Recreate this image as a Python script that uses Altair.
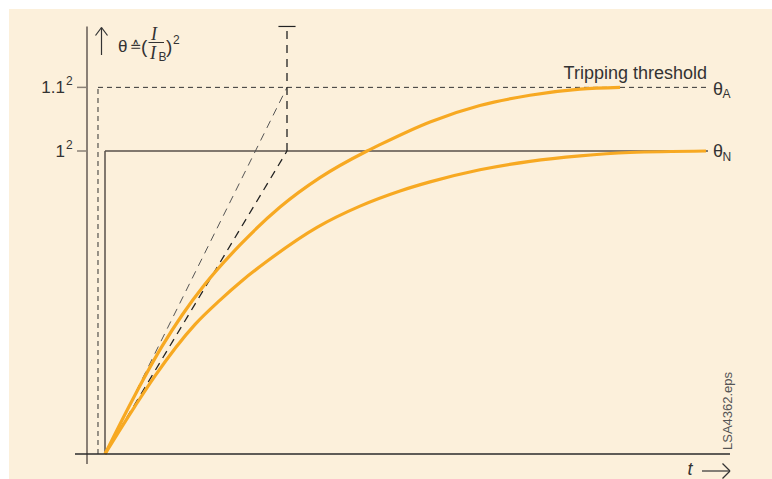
import altair as alt
import pandas as pd

# Heating curves of the thermal image, time t in units of the time constant,
# temperature rise theta = (I / I_B)^2
t_high = [0.0, 0.165, 0.313, 0.423, 0.549, 0.742, 0.962, 1.181, 1.440,
          1.511, 1.786, 2.060, 2.335, 2.610, 2.830]
theta_high = [0.0, 0.195, 0.355, 0.458, 0.560, 0.690, 0.815, 0.912, 1.000,
              1.021, 1.096, 1.150, 1.184, 1.204, 1.210]

t_rated = [0.0, 0.165, 0.275, 0.495, 0.632, 0.753, 0.890, 1.165, 1.401, 1.621,
           1.786, 2.060, 2.335, 2.610, 2.885, 3.302]
theta_rated = [0.0, 0.158, 0.258, 0.428, 0.508, 0.572, 0.636, 0.748, 0.818, 0.868,
               0.898, 0.938, 0.966, 0.984, 0.995, 1.000]

# Levels: rated 1^2 and tripping threshold 1.1^2
theta_levels = [1.0, 1.21]
level_base = ["1", "1.1"]
TAU = 1.0            # where the initial tangents meet the levels
T_END = 3.313        # right end of the level lines
T_TRIP_START = -0.0385
T_AXIS = -0.0989
T_TICK = -0.1538
T_AXIS_LEFT = -0.165
T_AXIS_RIGHT = 3.434
THETA_AXIS_LOW = -0.033
THETA_AXIS_TOP = 1.411
CAP_HALF = 0.047

X_DOMAIN = [-96 / 182, 667 / 182]
Y_DOMAIN = [-25 / 303, 445 / 303]

CREAM = "#FCF0DB"
ORANGE = "#F7A922"
INK = "#333333"
GREY = "#8A8076"
FONT = "Liberation Sans"

xs = alt.Scale(domain=X_DOMAIN, nice=False, zero=False)
ys = alt.Scale(domain=Y_DOMAIN, nice=False, zero=False)

curves = pd.DataFrame(
    {"t": t_high + t_rated,
     "theta": theta_high + theta_rated,
     "curve": ["A"] * len(t_high) + ["N"] * len(t_rated),
     "order": list(range(len(t_high))) + list(range(len(t_rated)))}
)


def seg(rows):
    return pd.DataFrame(rows, columns=["t", "t2", "th", "th2"])


def rules(df, **style):
    return alt.Chart(df).mark_rule(**style).encode(
        x=alt.X("t:Q", scale=xs, axis=None),
        x2="t2:Q",
        y=alt.Y("th:Q", scale=ys, axis=None),
        y2="th2:Q",
    )


theta_n, theta_a = theta_levels

trip_dashed = rules(
    seg([[T_TRIP_START, T_END, theta_a, theta_a],
         [T_TRIP_START, T_TRIP_START, 0.0, theta_a]]),
    color=INK, strokeWidth=1, strokeDash=[5, 4],
)
rated_solid = rules(
    seg([[0.0, T_END, theta_n, theta_n],
         [0.0, 0.0, 0.0, theta_n]]),
    color="#58514a", strokeWidth=1.5,
)
tangent_a = rules(seg([[0.0, TAU, 0.0, theta_a]]),
                  color="#555555", strokeWidth=1, strokeDash=[8, 6])
tangent_n = rules(
    seg([[0.0, TAU, 0.0, theta_n],
         [TAU, TAU, theta_n, THETA_AXIS_TOP]]),
    color="#222222", strokeWidth=1.3, strokeDash=[8, 6],
)
tangent_cap = rules(seg([[TAU - CAP_HALF, TAU + CAP_HALF, THETA_AXIS_TOP, THETA_AXIS_TOP]]),
                    color="#222222", strokeWidth=1.2)

x_line = rules(seg([[T_AXIS_LEFT, T_AXIS_RIGHT, 0.0, 0.0]]), color="#2b2b2b", strokeWidth=1.5)
y_line = rules(seg([[T_AXIS, T_AXIS, THETA_AXIS_LOW, THETA_AXIS_TOP]]), color=GREY, strokeWidth=2)

# Level ticks and their labels (base and exponent 2) on the theta axis
level_df = pd.DataFrame({"theta": theta_levels, "base": level_base, "exp": ["2", "2"],
                         "t": [T_TICK] * 2, "t2": [T_AXIS] * 2})
level_ticks = alt.Chart(level_df).mark_rule(color=GREY, strokeWidth=1.5).encode(
    x=alt.X("t:Q", scale=xs, axis=None), x2="t2:Q",
    y=alt.Y("theta:Q", scale=ys, axis=None),
)
level_base_text = alt.Chart(level_df).mark_text(
    align="right", baseline="alphabetic", dx=-12, dy=6, fontSize=17, font=FONT, color=INK
).encode(
    x=alt.X("t:Q", scale=xs, axis=None),
    y=alt.Y("theta:Q", scale=ys, axis=None),
    text="base:N",
)
level_exp_text = alt.Chart(level_df).mark_text(
    align="left", baseline="alphabetic", dx=-11, dy=-2, fontSize=12, font=FONT, color=INK
).encode(
    x=alt.X("t:Q", scale=xs, axis=None),
    y=alt.Y("theta:Q", scale=ys, axis=None),
    text="exp:N",
)

lines = alt.Chart(curves).mark_line(
    color=ORANGE, strokeWidth=3.2, interpolate="monotone", strokeCap="butt"
).encode(
    x=alt.X("t:Q", scale=xs, axis=None),
    y=alt.Y("theta:Q", scale=ys, axis=None),
    detail="curve:N",
    order="order:Q",
)

# Annotations, positioned in view pixels (view starts 9 px from the page corner)
OX, OY = 9, 9


def label(text, x, y, size, align="left", font=FONT, style="normal", color=INK, angle=0):
    props = dict(align=align, baseline="alphabetic", fontSize=size, font=font,
                 fontStyle=style, color=color)
    if angle:
        props["angle"] = angle
    return alt.Chart(pd.DataFrame({"s": [text]})).mark_text(**props).encode(
        text="s:N", x=alt.value(x - OX), y=alt.value(y - OY)
    )


def stroke(x1, y1, x2, y2, width=1.2, color=INK):
    return alt.Chart(pd.DataFrame({"s": [0]})).mark_rule(
        color=color, strokeWidth=width
    ).encode(
        x=alt.value(x1 - OX), y=alt.value(y1 - OY),
        x2=alt.value(x2 - OX), y2=alt.value(y2 - OY),
    )


annotations = [
    # theta axis arrow and quantity
    stroke(101.5, 55, 101.5, 27.5),
    stroke(101.5, 27.5, 95.5, 35.5),
    stroke(101.5, 27.5, 107.5, 35.5),
    label("θ", 118, 52, 17),
    label("≙", 130, 51, 14, font="DejaVu Sans"),
    label("(", 141, 53, 19),
    label("I", 154, 40, 18, align="center", font="Liberation Serif", style="italic"),
    stroke(148.5, 42.5, 164, 42.5, width=1),
    label("I", 153, 59, 18, align="center", font="Liberation Serif", style="italic"),
    label("B", 158.5, 61, 12),
    label(")", 166, 53, 19),
    label("2", 173, 44, 12),
    # time axis arrow
    label("t", 690, 475, 18, align="center", style="italic"),
    stroke(702, 471, 730, 471),
    stroke(730, 471, 722.5, 463.5),
    stroke(730, 471, 722.5, 478.5),
    # level names
    label("Tripping threshold", 707, 79, 18, align="right"),
    label("θ", 713, 95, 18),
    label("A", 722.5, 98, 12),
    label("θ", 713, 157, 18),
    label("N", 722.5, 161, 12),
    label("LSA4362.eps", 732, 450, 13, color="#555555", angle=270),
]

chart = alt.layer(
    y_line, level_ticks, level_base_text, level_exp_text, trip_dashed, rated_solid,
    tangent_a, tangent_n, tangent_cap, lines, x_line, *annotations,
).properties(
    width=763, height=470,
    autosize=alt.AutoSizeParams(type="none"),
    padding={"left": 9, "top": 9, "right": 0, "bottom": 0},
    background="white",
).configure_view(
    fill=CREAM, stroke=None
)

chart.save("out.html", embed_options={"renderer": "svg", "actions": False})
